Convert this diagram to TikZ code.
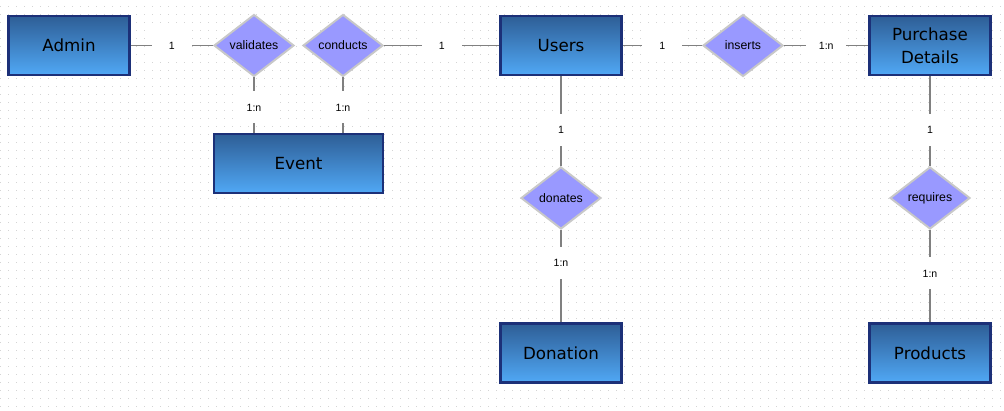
\documentclass[tikz,border=0pt]{standalone}
\usepackage{fontspec}
\setmainfont{Liberation Sans}
\newfontfamily\entityfont{DejaVu Sans}
\usepackage{tikz}
\usetikzlibrary{shapes.geometric}

\definecolor{enttop}{RGB}{46,94,150}
\definecolor{entbot}{RGB}{80,168,245}
\definecolor{entline}{RGB}{28,48,120}
\definecolor{relfill}{RGB}{153,153,255}
\definecolor{relline}{RGB}{200,200,200}
\definecolor{linkgray}{RGB}{128,128,128}
\definecolor{griddot}{RGB}{212,212,212}

\begin{document}
\begin{tikzpicture}[x=0.02cm,y=-0.02cm,
  entity/.style={rectangle,draw=entline,line width=1.2pt,top color=enttop,bottom color=entbot,
    minimum width=2.42cm,minimum height=1.18cm,align=center,
    font=\entityfont\fontsize{9.5}{13}\selectfont},
  rel/.style={diamond,draw=relline,line width=1.1pt,fill=relfill,
    minimum width=1.6cm,minimum height=1.24cm,inner sep=0pt,font=\fontsize{7}{8}\selectfont},
  link/.style={draw=linkgray,line width=1.1pt},
  card/.style={fill=white,minimum width=0.8cm,minimum height=0.64cm,inner sep=0pt,
    font=\fontsize{6}{7}\selectfont}]
  \useasboundingbox[fill=white] (0,0) rectangle (1004,410);

  % dotted background
  \foreach \k in {0,...,50}
    \draw[griddot,line width=0.02cm,dash pattern=on 0.02cm off 0.14cm] (0.5,{6.7+8*\k}) -- (1004,{6.7+8*\k});

  % entities
  \node[entity] (admin) at (69,45.5) {Admin};
  \node[entity,minimum width=3.38cm] (event) at (298.5,163.5) {Event};
  \node[entity] (users) at (561,45.5) {Users};
  \node[entity] (purchase) at (930,45.5) {Purchase\\Details};
  \node[entity] (donation) at (561,353) {Donation};
  \node[entity] (products) at (930,353) {Products};

  % relationships
  \node[rel] (validates) at (254,45.5) {validates};
  \node[rel] (conducts) at (343,45.5) {conducts};
  \node[rel] (inserts) at (743,45.5) {inserts};
  \node[rel] (donates) at (561,198) {donates};
  \node[rel] (requires) at (930,198) {requires};

  % links with cardinalities
  \draw[link] (admin) -- node[card]{1} (validates);
  \draw[link] (conducts) -- node[card]{1} (users);
  \draw[link] (users) -- node[card]{1} (inserts);
  \draw[link] (inserts) -- node[card]{1:n} (purchase);
  \draw[link] (validates.south) -- node[card,pos=0.54]{1:n} (validates.south |- event.north);
  \draw[link] (conducts.south) -- node[card,pos=0.54]{1:n} (conducts.south |- event.north);
  \draw[link] (users) -- node[card,pos=0.6]{1} (donates);
  \draw[link] (donates) -- node[card,pos=0.36]{1:n} (donation);
  \draw[link] (purchase) -- node[card,pos=0.6]{1} (requires);
  \draw[link] (requires) -- node[card,pos=0.47]{1:n} (products);
\end{tikzpicture}
\end{document}
